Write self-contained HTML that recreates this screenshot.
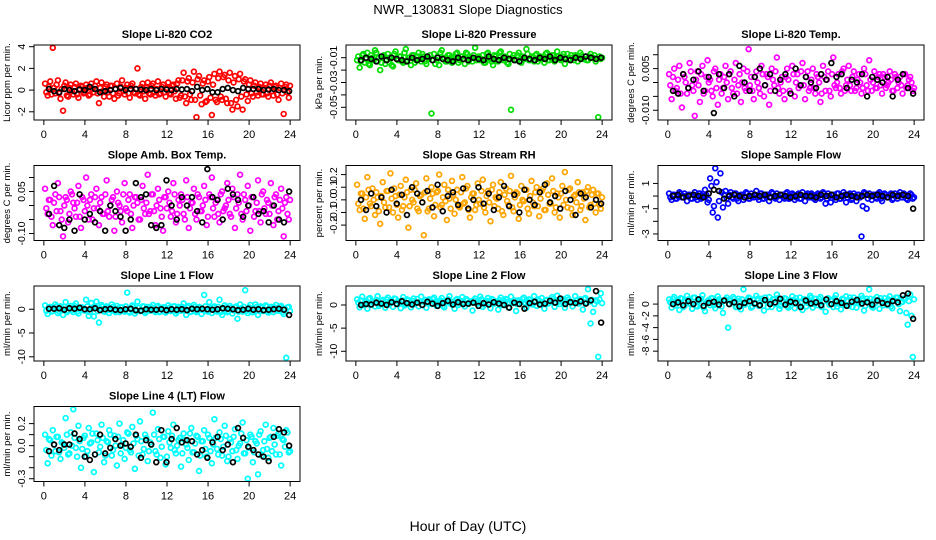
<!DOCTYPE html>
<html><head><meta charset="utf-8"><style>
html,body{margin:0;padding:0;background:#fff;}
svg{display:block;font-family:"Liberation Sans",sans-serif;}
</style></head><body>
<svg id="chart" width="936" height="540" viewBox="0 0 936 540">
<text x="468" y="14" font-size="13" text-anchor="middle">NWR_130831  Slope Diagnostics</text>
<text x="468" y="531" font-size="14" text-anchor="middle">Hour of Day (UTC)</text>
</svg>
<script>
const xTicks = [0,4,8,12,16,20,24];
const titles = ["Slope Li-820 CO2","Slope Li-820 Pressure","Slope Li-820 Temp.","Slope Amb. Box Temp.","Slope Gas Stream RH","Slope Sample Flow","Slope Line 1 Flow","Slope Line 2 Flow","Slope Line 3 Flow","Slope Line 4 (LT) Flow"];
const yLabels = ["Licor ppm per min.","kPa per min.","degrees C per min.","degrees C per min.","percent per min.","ml/min per min.","ml/min per min.","ml/min per min.","ml/min per min.","ml/min per min."];
const colors = ["#ff0000","#00dd00","#ff00ff","#ff00ff","#ffa500","#0000ff","#00ffff","#00ffff","#00ffff","#00ffff"];
const yLims = [[-2.5,3.9],[-0.058,-0.002],[-0.0125,0.0125],[-0.115,0.133],[-0.3,0.25],[-3.3,2.2],[-10.3,4.3],[-11.5,3.5],[-9.2,2.6],[-0.3,0.33]];
const yTicks = [[-2,0,2,4],[-0.05,-0.04,-0.03,-0.02,-0.01],[-0.01,-0.005,0,0.005,0.01],[-0.1,-0.05,0,0.05,0.1],[-0.2,-0.1,0,0.1,0.2],[-3,-2,-1,0,1],[-10,-5,0],[-10,-5,0],[-8,-6,-4,-2,0],[-0.3,-0.2,-0.1,0,0.1,0.2]];
const yTickLabels = [["-2","0","2","4"],["-0.05","","-0.03","","-0.01"],["-0.010","","","0.005",""],["-0.10","","","0.05",""],["-0.2","-0.1","0.0","0.1","0.2"],["-3","","-1","","1"],["-10","-5","0"],["-10","-5","0"],["-8","-6","-4","-2","0"],["-0.3","","","0.0","","0.2"]];

const co2Color = [0.6,-0.5,0.8,3.9,-0.3,0.9,-0.8,-1.9,0.7,-0.6,0.5,-0.4,0.6,-0.7,0.4,-0.3,0.5,-0.5,0.6,-0.2,0.8,-1.2,0.7,-0.6,0.5,-0.6,0.4,-0.8,0.6,-0.3,0.9,-0.4,0.5,-0.7,0.6,-0.3,2.0,-0.5,0.6,-0.8,0.7,-0.4,0.6,-0.5,0.8,-0.3,0.5,-0.6,0.7,-0.4,0.5,-0.8,0.9,-0.5,1.6,-1.2,1.1,-0.9,1.7,-2.5,1.3,-1.3,0.9,-1.0,1.2,-2.3,1.5,-1.1,1.7,-0.9,1.4,-1.2,1.6,-1.8,1.3,-1.5,1.5,-1.8,1.0,-1.0,0.9,-0.6,0.7,-0.5,0.6,-0.4,0.5,-0.6,0.7,-0.5,0.4,-0.9,0.6,-2.2,0.5,-0.7];
const co2ColorB = [-0.2,0.3,-0.4,0.2,0.5,-0.3,0.1,0.4,-0.5,0.2,-0.1,0.3,-0.4,0.1,0.3,-0.2,0.2,-0.4,0.1,0.4,-0.3,0.2,-0.1,0.3,-0.2,0.4,-0.3,0.1,-0.5,0.3,-0.1,0.2,-0.3,0.4,-0.2,0.1,-0.4,0.3,-0.1,0.2,-0.3,0.4,-0.2,0.1,-0.4,0.3,-0.2,0.2,-0.3,0.4,-0.1,0.6,-0.7,0.9,-0.6,0.8,-0.4,0.7,-0.9,1.0,-0.5,0.6,-1.1,0.8,-0.7,0.5,-0.9,1.1,-0.6,1.2,-0.8,0.9,-1.2,0.7,-0.9,1.0,-0.6,0.8,-0.4,0.5,-0.3,0.4,-0.2,0.3,-0.4,0.2,-0.3,0.4,-0.1,0.3,-0.4,0.2,-0.3,0.3,-0.2,0.4];
const co2Black = [0.1,-0.1,-0.2,0.1,0,-0.1,0.05,0,0.3,0.1,-0.2,-0.1,0,0.1,0.2,0,0.1,0.1,0.05,0,0.1,0,0.1,0.05,0,0.1,0.05,0.1,-0.1,0.3,0,0.1,-0.2,-0.2,0.1,0.2,0,-0.1,0.2,0.1,0.1,0.1,0,0.05,0.1,0,0,-0.1];
const presColor = [-0.012,-0.018,-0.008,-0.014,-0.006,-0.016,-0.01,-0.004,-0.013,-0.02,-0.009,-0.015,-0.007,-0.011,-0.017,-0.005,-0.012,-0.009,-0.014,-0.003,-0.01,-0.016,-0.008,-0.012,-0.006,-0.013,-0.009,-0.015,-0.011,-0.055,-0.007,-0.012,-0.016,-0.004,-0.01,-0.013,-0.008,-0.014,-0.01,-0.006,-0.012,-0.009,-0.015,-0.007,-0.011,-0.013,-0.002,-0.01,-0.012,-0.008,-0.014,-0.006,-0.011,-0.016,-0.009,-0.013,-0.005,-0.012,-0.01,-0.015,-0.052,-0.008,-0.012,-0.006,-0.014,-0.01,-0.003,-0.012,-0.009,-0.013,-0.007,-0.011,-0.01,-0.014,-0.006,-0.012,-0.008,-0.013,-0.005,-0.011,-0.009,-0.015,-0.007,-0.012,-0.01,-0.008,-0.013,-0.006,-0.011,-0.009,-0.012,-0.007,-0.01,-0.013,-0.058,-0.011];
const presColorB = [-0.009,-0.013,-0.007,-0.011,-0.015,-0.008,-0.012,-0.006,-0.01,-0.014,-0.008,-0.012,-0.01,-0.016,-0.007,-0.011,-0.009,-0.013,-0.006,-0.012,-0.01,-0.008,-0.014,-0.009,-0.011,-0.007,-0.013,-0.01,-0.008,-0.012,-0.015,-0.009,-0.006,-0.011,-0.013,-0.008,-0.01,-0.012,-0.007,-0.014,-0.009,-0.011,-0.006,-0.013,-0.01,-0.008,-0.012,-0.009,-0.011,-0.014,-0.007,-0.01,-0.013,-0.008,-0.012,-0.006,-0.011,-0.009,-0.014,-0.007,-0.01,-0.012,-0.008,-0.013,-0.009,-0.011,-0.007,-0.012,-0.01,-0.008,-0.013,-0.009,-0.011,-0.007,-0.012,-0.01,-0.008,-0.011,-0.009,-0.012,-0.007,-0.01,-0.011,-0.008,-0.012,-0.009,-0.01,-0.008,-0.011,-0.012,-0.009,-0.01,-0.008,-0.011,-0.009,-0.01];
const presBlack = [-0.012,-0.01,-0.011,-0.013,-0.009,-0.012,-0.01,-0.011,-0.012,-0.013,-0.01,-0.012,-0.011,-0.009,-0.012,-0.01,-0.011,-0.012,-0.013,-0.01,-0.011,-0.012,-0.01,-0.011,-0.012,-0.009,-0.011,-0.012,-0.01,-0.011,-0.012,-0.013,-0.01,-0.011,-0.012,-0.01,-0.011,-0.009,-0.012,-0.01,-0.011,-0.012,-0.01,-0.011,-0.009,-0.01,-0.011,-0.01];
const tempColor = [0.003,-0.006,0.005,-0.002,0.006,-0.009,0.002,-0.004,0.007,-0.001,-0.012,0.004,-0.007,0.006,-0.003,0.008,0.001,-0.005,0.005,-0.008,0.003,-0.002,0.006,-0.006,0.004,-0.004,0.007,-0.001,-0.007,0.005,-0.003,0.012,0.002,-0.006,0.004,-0.002,0.006,-0.005,0.003,-0.008,0.005,-0.001,0.009,-0.004,0.002,-0.006,0.005,-0.003,0.006,-0.005,0.003,-0.001,0.007,-0.006,0.004,-0.002,0.005,-0.004,0.002,-0.007,0.006,-0.003,0.004,-0.005,0.009,-0.002,0.003,-0.004,0.005,-0.001,0.006,-0.003,0.004,-0.002,0.003,-0.004,0.005,-0.001,0.008,-0.003,0.004,-0.002,0.003,-0.004,0.002,-0.001,0.004,-0.003,0.003,-0.002,0.002,-0.004,0.003,-0.001,0.002,-0.003];
const tempColorB = [-0.001,0.002,-0.003,0.001,-0.004,0.003,0.0,-0.002,0.004,-0.003,0.001,-0.001,0.003,-0.004,0.002,0.0,-0.003,0.004,-0.002,0.001,-0.004,0.002,0.0,0.003,-0.002,0.001,-0.004,0.003,0.0,-0.002,0.004,-0.001,-0.003,0.002,0.0,-0.004,0.003,-0.001,0.002,-0.003,0.001,0.004,-0.002,0.0,-0.003,0.002,0.001,-0.004,0.003,0.0,-0.002,0.004,-0.001,0.002,-0.003,0.001,-0.002,0.003,0.0,-0.004,0.002,0.001,-0.003,0.003,-0.001,0.0,-0.002,0.004,-0.003,0.001,-0.001,0.002,-0.003,0.001,0.0,-0.002,0.003,-0.003,0.001,0.0,-0.002,0.002,-0.001,0.003,-0.002,0.0,0.001,-0.003,0.002,0.0,-0.001,0.003,-0.002,0.001,0.0,-0.002];
const tempBlack = [-0.003,-0.004,0.003,-0.002,0.001,0.004,-0.003,0.002,-0.011,0.003,-0.002,0.003,-0.005,0.006,0.0,-0.003,0.002,0.005,-0.001,0.003,-0.003,0.001,0.003,-0.004,0.005,-0.001,0.002,0.0,-0.002,0.003,0.001,0.007,0.002,0.003,-0.002,0.001,0.000,0.003,-0.005,0.002,0.001,0.000,0.002,-0.005,0.001,0.003,-0.002,-0.004];
const ambColor = [0.06,-0.03,0.02,-0.07,0.04,0.08,-0.02,-0.11,0.03,-0.06,0.05,0.01,-0.04,0.07,-0.08,0.02,0.10,-0.05,0.04,-0.01,0.06,-0.07,0.03,-0.03,0.09,-0.04,0.02,-0.09,0.05,0.00,-0.06,0.08,-0.02,0.04,-0.08,0.03,0.01,-0.05,0.07,-0.03,0.11,-0.02,0.04,-0.07,0.06,-0.01,-0.09,0.03,0.05,-0.04,0.08,-0.06,0.02,0.04,-0.03,0.09,-0.08,0.01,0.06,-0.05,0.03,-0.02,0.07,-0.07,0.04,0.10,-0.04,0.02,-0.06,0.05,-0.01,0.08,-0.03,0.06,-0.08,0.04,0.11,-0.05,0.02,0.07,-0.09,0.03,-0.02,0.09,-0.06,0.05,-0.03,0.01,0.08,-0.07,0.04,-0.02,0.06,-0.11,0.03,-0.05];
const ambColorB = [-0.01,0.02,-0.04,0.01,-0.02,0.03,-0.05,0.0,0.02,-0.03,0.04,-0.01,0.01,-0.04,0.03,-0.02,0.0,0.02,-0.05,0.03,-0.01,0.01,-0.03,0.04,-0.02,0.0,0.03,-0.04,0.01,-0.02,0.04,-0.01,0.02,-0.03,0.0,0.03,-0.05,0.02,-0.01,0.01,-0.03,0.04,-0.02,0.0,0.02,-0.04,0.03,-0.01,0.01,-0.02,0.04,-0.03,0.0,0.02,-0.05,0.03,-0.01,0.01,-0.03,0.04,-0.02,0.0,0.02,-0.04,0.03,-0.01,0.01,-0.03,0.04,-0.02,0.0,0.02,-0.04,0.03,-0.01,0.01,-0.03,0.04,-0.02,0.0,0.03,-0.04,0.01,-0.02,0.04,-0.01,0.02,-0.03,0.0,0.03,-0.05,0.02,-0.01,0.01,-0.03,0.02];
const ambBlack = [-0.03,0.07,-0.07,-0.08,-0.05,-0.09,0.04,-0.05,-0.03,-0.06,-0.02,-0.09,0.00,-0.02,-0.04,-0.09,-0.05,0.08,0.03,0.04,-0.07,-0.08,-0.07,0.09,0.0,-0.05,0.03,0.00,0.03,-0.02,-0.06,0.13,0.03,0.02,-0.05,0.06,0.04,0.02,-0.04,0.0,0.03,-0.03,-0.02,-0.06,0.0,-0.05,-0.06,0.05];
const rhColor = [0.12,-0.08,0.05,-0.15,0.18,-0.03,0.09,-0.12,0.02,-0.19,0.14,-0.06,0.07,0.21,-0.1,0.03,-0.14,0.11,-0.05,0.16,-0.22,0.08,-0.02,0.13,-0.09,0.04,-0.28,0.17,-0.07,0.1,-0.13,0.06,0.2,-0.04,0.12,-0.16,0.01,0.15,-0.11,0.08,-0.06,0.18,-0.02,0.11,-0.14,0.05,-0.08,0.13,-0.03,0.16,-0.1,0.07,-0.17,0.12,0.02,-0.07,0.14,-0.12,0.09,-0.04,0.19,-0.09,0.06,-0.15,0.11,-0.01,0.08,-0.11,0.15,-0.05,0.1,-0.13,0.07,-0.08,0.13,-0.03,0.17,-0.1,0.05,-0.14,0.11,0.22,-0.06,0.09,-0.12,0.04,0.14,-0.08,0.06,-0.16,0.1,-0.04,0.08,-0.1,0.05,-0.07];
const rhColorB = [-0.03,0.05,-0.07,0.02,0.08,-0.05,0.0,0.06,-0.09,0.03,-0.02,0.07,-0.06,0.01,0.09,-0.04,0.04,-0.08,0.02,0.06,-0.05,0.0,0.08,-0.07,0.03,-0.02,0.06,-0.09,0.01,0.05,-0.04,0.07,-0.06,0.02,-0.01,0.08,-0.07,0.04,0.0,-0.05,0.06,-0.03,0.09,-0.08,0.02,0.05,-0.04,0.0,0.07,-0.06,0.03,-0.02,0.08,-0.05,0.01,0.06,-0.09,0.04,-0.01,0.07,-0.06,0.02,0.05,-0.04,0.0,0.08,-0.07,0.03,-0.02,0.06,-0.05,0.01,0.09,-0.08,0.04,-0.03,0.07,-0.06,0.02,0.05,-0.04,0.0,0.08,-0.07,0.03,-0.02,0.06,-0.05,0.01,0.07,-0.06,0.04,-0.03,0.05,-0.04,0.02];
const rhBlack = [0.0,-0.08,0.05,-0.05,0.02,-0.1,0.08,-0.03,0.04,-0.12,0.1,0.05,-0.02,0.07,-0.06,0.12,-0.09,0.03,0.06,-0.04,0.09,-0.07,0.0,0.1,-0.03,0.05,-0.08,0.02,0.11,-0.05,0.04,-0.1,0.08,0.0,-0.04,0.06,0.12,-0.02,0.03,-0.07,0.07,0.0,-0.12,0.05,0.02,-0.06,0.0,-0.03];
const flowColor = [0.2,-0.3,0.1,-0.2,0.3,-0.1,0.2,-0.4,0.1,-0.2,0.3,-0.3,0.2,-0.1,0.5,-0.5,1.4,-1.3,2.2,-1.7,1.8,-0.9,0.4,-0.6,0.3,-0.2,0.2,-0.4,0.1,-0.3,0.3,-0.2,0.2,-0.1,0.4,-0.3,0.2,-0.2,0.1,-0.4,0.3,-0.1,0.2,-0.3,0.1,-0.2,0.3,-0.2,0.2,-0.3,0.1,-0.2,0.3,-0.4,0.2,-0.1,0.1,-0.3,0.2,-0.2,0.3,-0.6,0.2,-0.5,0.1,-0.3,0.2,-0.2,0.3,-0.5,0.1,-0.3,0.2,-0.4,0.1,-3.2,0.3,-1.0,0.2,-0.3,0.1,-0.2,0.3,-0.4,0.2,-0.1,0.1,-0.3,0.2,-0.2,0.3,-0.1,0.1,-0.3,0.2,-0.2];
const flowColorB = [-0.1,0.1,-0.2,0.0,0.2,-0.1,0.0,0.1,-0.2,0.1,-0.1,0.2,-0.2,0.0,0.1,-0.3,0.8,-0.8,1.1,-0.4,0.3,0.1,-0.2,0.1,-0.1,0.2,-0.2,0.0,0.1,-0.1,0.2,-0.2,0.0,0.1,-0.1,0.2,-0.2,0.0,0.1,-0.1,0.2,-0.2,0.0,0.1,-0.1,0.2,-0.2,0.0,0.1,-0.1,0.2,-0.2,0.0,0.1,-0.1,0.2,-0.2,0.0,0.1,-0.1,0.2,-0.2,0.0,0.1,-0.1,0.2,-0.2,0.0,0.1,-0.1,0.2,-0.2,0.0,0.1,-0.1,-0.8,0.2,-0.2,0.0,0.1,-0.1,0.2,-0.2,0.0,0.1,-0.1,0.2,-0.2,0.0,0.1,-0.1,0.2,-0.2,0.0,0.1,-0.1];
const flowBlack = [0.0,0.1,-0.1,0.0,0.1,0.0,-0.1,0.2,0.5,0.4,-0.2,0.0,0.1,0.0,-0.1,0.0,0.1,0.0,0.1,-0.1,0.0,0.1,0.0,-0.1,0.0,0.1,0.0,0.0,-0.1,0.1,0.0,0.1,-0.1,0.0,0.1,0.0,-0.1,0.0,0.1,0.0,0.1,0.0,-0.1,0.1,0.0,0.1,0.0,-1.0];
const line1Color = [0.8,-1.0,0.5,-0.4,1.0,-0.8,0.6,-1.2,1.5,-0.3,0.7,-0.6,1.2,-0.9,0.4,-0.2,2.0,-1.4,1.3,-1.5,1.6,-2.8,0.9,-0.5,0.6,-0.8,1.0,-0.3,0.7,-0.6,0.4,-0.5,3.5,-0.7,0.8,-0.9,1.6,-0.4,0.6,-0.8,0.5,-0.3,0.9,-0.6,0.7,-0.5,0.4,-0.7,0.8,-0.4,0.6,-0.9,0.5,-0.3,1.2,-1.2,0.7,-0.5,0.9,-0.6,0.5,-1.0,3.0,-0.4,1.5,-0.8,0.6,-0.5,2.0,-1.2,0.8,-0.6,0.7,-0.9,0.4,-2.0,1.0,-0.5,4.0,-0.8,0.9,-0.6,1.0,-1.2,0.6,-0.4,0.8,-0.7,0.5,-0.6,0.9,-0.3,0.7,-1.0,-10.2,0.5];
const line1ColorB = [-0.3,0.4,-0.5,0.2,0.6,-0.4,0.1,0.5,-0.6,0.3,-0.2,0.7,-0.5,0.2,0.4,-0.3,0.6,-0.6,0.3,0.5,-0.4,0.1,0.6,-0.5,0.3,-0.2,0.5,-0.6,0.2,0.4,-0.3,0.6,-0.5,0.1,0.5,-0.4,0.3,-0.2,0.6,-0.5,0.2,0.4,-0.3,0.5,-0.6,0.1,0.4,-0.4,0.3,-0.2,0.6,-0.5,0.2,0.5,-0.3,0.4,-0.6,0.1,0.5,-0.4,0.3,-0.2,0.6,-0.5,0.2,0.4,-0.3,0.5,-0.6,0.1,0.4,-0.4,0.3,-0.2,0.6,-0.5,0.2,0.5,-0.3,0.4,-0.6,0.1,0.5,-0.4,0.3,-0.2,0.6,-0.5,0.2,0.4,-0.3,0.5,-0.6,0.1,0.4,-0.4];
const line1Black = [0.1,0.1,0.2,-0.1,0.2,0.1,0.3,0.0,0.0,0.2,-0.2,0.0,0.1,-0.1,-0.2,0.0,0.1,-0.2,-0.3,0.0,-0.1,-0.1,0.0,-0.2,0.0,-0.1,0.0,-0.2,0.1,0.0,0.1,0.0,-0.1,0.0,0.2,0.1,0.0,-0.2,-0.1,0.1,-0.1,0.0,-0.2,-0.1,0.0,0.1,-0.1,-1.2];
const line2Color = [1.2,-0.5,1.8,0.3,-0.8,1.5,0.6,-0.3,1.9,0.2,1.1,-0.6,1.6,0.4,-0.4,1.3,0.8,-0.7,1.7,0.1,1.0,-0.5,1.4,0.5,-0.3,1.8,0.7,-0.6,1.2,0.2,1.6,-0.2,0.9,1.5,-0.5,0.6,1.9,0.1,-0.8,1.3,0.4,1.7,-0.3,1.0,0.6,-1.2,1.4,0.3,1.8,-0.4,0.8,1.5,-0.7,1.1,0.5,-1.0,1.6,0.2,1.3,-0.5,1.8,0.4,-1.3,1.0,0.7,1.6,-0.6,1.2,0.3,1.9,-0.2,0.9,1.5,-0.8,1.1,0.5,1.7,-0.4,2.0,0.2,1.3,-0.6,1.6,0.7,-0.3,1.9,0.4,1.2,-1.0,1.5,3.4,-4.0,-1.5,1.0,-11.2,2.5];
const line2ColorB = [0.5,1.0,0.0,0.8,1.3,0.2,0.7,1.1,-0.2,0.9,0.4,1.2,0.1,0.8,1.4,0.3,0.6,1.0,-0.1,1.2,0.5,0.9,0.2,1.3,0.7,0.0,1.1,0.4,0.9,1.3,0.2,0.6,1.0,-0.2,0.8,1.2,0.3,0.7,1.1,0.0,0.9,0.5,1.3,0.2,0.8,1.0,0.4,0.6,1.2,0.1,0.9,0.5,1.3,0.3,0.7,1.1,0.0,0.8,1.2,0.4,0.6,1.0,0.2,0.9,1.3,0.5,0.7,1.1,0.1,0.8,1.2,0.4,0.6,1.0,0.3,0.9,1.3,0.5,0.7,1.1,0.2,0.8,1.2,0.4,0.6,1.0,0.3,0.9,1.3,0.5,0.7,1.1,0.2,0.8,1.2,0.4];
const line2Black = [0.0,0.2,0.1,0.5,0.3,0.0,0.6,0.2,0.8,0.4,0.1,0.5,0.0,0.7,0.3,-0.2,0.4,0.9,0.1,0.6,0.2,0.3,0.5,-0.2,0.4,0.1,0.6,0.3,0.0,-0.6,0.5,0.2,-0.8,0.4,0.7,0.1,0.3,0.9,0.5,1.4,0.2,0.6,0.4,0.8,0.3,1.0,3.0,-3.8];
const line3Color = [0.8,-0.6,1.2,0.2,-1.0,0.9,-0.3,1.4,0.1,-0.8,1.1,-0.4,0.7,1.5,-1.2,0.5,-0.2,1.0,-0.7,1.3,0.3,-1.5,0.8,-4.0,0.6,1.2,-0.5,0.9,-0.9,2.5,0.2,1.1,-0.6,0.7,1.4,-0.3,0.9,-1.1,0.4,1.2,-0.5,0.8,1.6,-0.8,0.3,1.0,-0.4,0.7,1.3,-0.7,0.5,1.1,-1.0,0.8,0.2,1.4,-0.6,0.9,-0.2,1.2,0.4,-1.3,1.0,0.6,-0.5,1.5,0.1,-0.9,0.8,1.3,-0.3,0.7,1.1,-0.6,0.4,1.4,-1.1,0.9,2.5,-0.4,0.8,1.2,-0.8,0.5,1.0,-0.2,1.3,-0.7,0.6,1.1,-1.2,0.4,0.9,-3.5,1.6,-9.0];
const line3ColorB = [0.3,0.9,-0.2,0.6,1.0,-0.5,0.4,0.8,0.0,1.1,-0.3,0.5,0.9,-0.6,0.2,0.7,1.0,-0.2,0.4,0.8,-0.4,0.6,1.1,0.0,0.3,0.9,-0.5,0.5,0.8,-0.1,0.7,1.0,-0.4,0.2,0.9,-0.2,0.6,1.1,-0.5,0.4,0.8,0.0,1.0,-0.3,0.5,0.9,-0.6,0.2,0.7,1.0,-0.2,0.4,0.8,-0.4,0.6,1.1,0.0,0.3,0.9,-0.5,0.5,0.8,-0.1,0.7,1.0,-0.4,0.2,0.9,-0.2,0.6,1.1,-0.5,0.4,0.8,0.0,1.0,-0.3,0.5,0.9,-0.6,0.2,0.7,1.0,-0.2,0.4,0.8,-0.4,0.6,1.1,0.0,0.3,0.9,-1.5,0.5,-2.0,0.8];
const line3Black = [0.0,0.3,-0.2,0.5,0.0,0.8,-0.3,0.2,0.4,-0.1,0.6,0.0,0.3,-0.4,0.2,0.5,0.1,-0.2,0.7,0.0,0.3,0.9,-0.1,0.4,0.2,-0.5,0.6,0.1,0.3,-0.2,0.8,0.0,0.5,0.2,-0.3,0.4,0.7,0.1,0.3,-0.1,0.6,0.2,0.0,0.5,0.3,1.5,1.8,-2.5];
const line4Color = [0.10,-0.16,0.05,0.14,-0.05,0.08,-0.12,0.02,0.25,-0.08,0.12,0.33,-0.02,0.18,-0.20,0.07,-0.10,0.16,0.03,-0.24,0.11,-0.06,0.19,-0.15,0.04,0.14,-0.09,0.09,-0.18,0.20,0.01,-0.12,0.12,-0.04,0.17,-0.21,0.06,0.22,-0.08,0.10,-0.14,0.03,0.30,-0.05,0.15,-0.11,0.08,-0.17,0.13,-0.02,0.19,-0.07,0.05,-0.19,0.11,0.01,-0.13,0.16,-0.06,0.09,-0.23,0.04,0.14,-0.10,0.07,-0.16,0.24,-0.03,0.12,-0.09,0.18,-0.14,0.06,-0.05,0.15,-0.12,0.02,0.21,-0.07,-0.30,0.10,-0.15,0.04,-0.26,0.13,-0.04,0.19,-0.11,0.08,0.16,-0.08,0.11,-0.18,0.05,0.14,-0.06];
const line4ColorB = [-0.04,0.06,-0.09,0.01,0.08,-0.06,0.03,-0.02,0.10,-0.07,0.00,0.07,-0.10,0.04,-0.03,0.09,-0.05,0.02,0.11,-0.08,0.05,-0.01,0.07,-0.09,0.03,0.10,-0.04,0.00,0.08,-0.07,0.05,-0.02,0.11,-0.06,0.02,0.09,-0.09,0.04,-0.03,0.07,-0.05,0.01,0.10,-0.08,0.06,-0.01,0.08,-0.10,0.03,0.09,-0.04,0.00,0.07,-0.07,0.05,-0.02,0.11,-0.06,0.02,0.08,-0.09,0.04,-0.03,0.10,-0.05,0.01,0.07,-0.08,0.06,-0.01,0.09,-0.10,0.03,0.08,-0.04,0.00,0.11,-0.07,0.05,-0.02,0.08,-0.06,0.02,0.10,-0.09,0.04,-0.03,0.07,-0.05,0.01,0.09,-0.08,0.06,-0.01,0.12,-0.05];
const line4Black = [-0.05,0.01,-0.04,0.01,0.01,0.11,0.06,-0.1,-0.13,-0.08,0.1,-0.07,-0.02,0.06,0.0,0.02,-0.01,0.1,-0.11,0.05,0.01,-0.15,0.14,-0.15,0.06,0.16,0.03,0.05,0.04,-0.08,-0.04,-0.11,0.03,0.08,-0.04,0.01,-0.15,0.16,0.07,-0.01,-0.04,-0.08,-0.1,-0.14,0.08,0.15,0.12,0.0];

const colorSeries = [co2Color,presColor,tempColor,ambColor,rhColor,flowColor,line1Color,line2Color,line3Color,line4Color];
const colorSeriesB = [co2ColorB,presColorB,tempColorB,ambColorB,rhColorB,flowColorB,line1ColorB,line2ColorB,line3ColorB,line4ColorB];
const blackSeries = [co2Black,presBlack,tempBlack,ambBlack,rhBlack,flowBlack,line1Black,line2Black,line3Black,line4Black];
const slugs = ["co2","pressure","temp","amb-box-temp","gas-rh","sample-flow","line1-flow","line2-flow","line3-flow","line4-flow"];

const NS = "http://www.w3.org/2000/svg";
const svg = document.getElementById("chart");
function mk(tag, attrs, parent){ const e=document.createElementNS(NS,tag); for(const k in attrs) e.setAttribute(k,attrs[k]); (parent||svg).appendChild(e); return e; }

const BW=266, BH=75;
for(let p=0;p<10;p++){
  const col=p%3, row=Math.floor(p/3);
  const L=34+col*312, T=45+row*120.5;
  const g=mk("g",{});
  
  
  const xs=h=>L+(h+0.96)/25.92*BW;
  const [y0,y1]=yLims[p]; const pad=(y1-y0)*0.04;
  const ys=v=>T+BH-(v-(y0-pad))/((y1-y0)+2*pad)*BH;
  const t=mk("text",{x:L+BW/2,y:T-7,"font-size":"11","font-weight":"bold","text-anchor":"middle"},g);
  t.textContent=titles[p];
  
  
  const yl=mk("text",{x:0,y:0,"font-size":"9.5","text-anchor":"middle",transform:`translate(${L-24},${T+BH/2}) rotate(-90)`},g);
  yl.textContent=yLabels[p];
  
  
  mk("line",{x1:xs(0),x2:xs(24),y1:T+BH,y2:T+BH,stroke:"#000","stroke-width":1},g);
  xTicks.forEach(h=>{
    mk("line",{x1:xs(h),x2:xs(h),y1:T+BH,y2:T+BH+5,stroke:"#000"},g);
    const tx=mk("text",{x:xs(h),y:T+BH+18,"font-size":"11","text-anchor":"middle"},g);
    tx.textContent=h;
    
    
  });
  yTicks[p].forEach((v,i)=>{
    mk("line",{x1:L,x2:L-5,y1:ys(v),y2:ys(v),stroke:"#000"},g);
    if(yTickLabels[p][i]){
      const ty=mk("text",{x:0,y:0,"font-size":"10.5","text-anchor":"middle",transform:`translate(${L-9},${ys(v)}) rotate(-90)`},g);
      ty.textContent=yTickLabels[p][i];
      
      
    }
  });
  const cs=colorSeries[p];
  cs.forEach((v,i)=>{
    const c=mk("circle",{cx:xs(i*24/cs.length+0.12),cy:ys(v),r:2.4,fill:"none",stroke:colors[p],"stroke-width":1.7},g);
    
    
  });
  const cb=colorSeriesB[p];
  cb.forEach((v,i)=>{
    const c=mk("circle",{cx:xs(i*24/cb.length+0.24),cy:ys(v),r:2.4,fill:"none",stroke:colors[p],"stroke-width":1.7},g);
    
    
  });
  const bs=blackSeries[p];
  bs.forEach((v,i)=>{
    const c=mk("circle",{cx:xs(0.5+i*23.4/(bs.length-1)),cy:ys(v),r:2.4,fill:"none",stroke:"#000","stroke-width":1.7},g);
    
    
  });
  const box=mk("rect",{x:L,y:T,width:BW,height:BH,fill:"none",stroke:"#000","stroke-width":1},g);
  
  
}
</script>
</body></html>
